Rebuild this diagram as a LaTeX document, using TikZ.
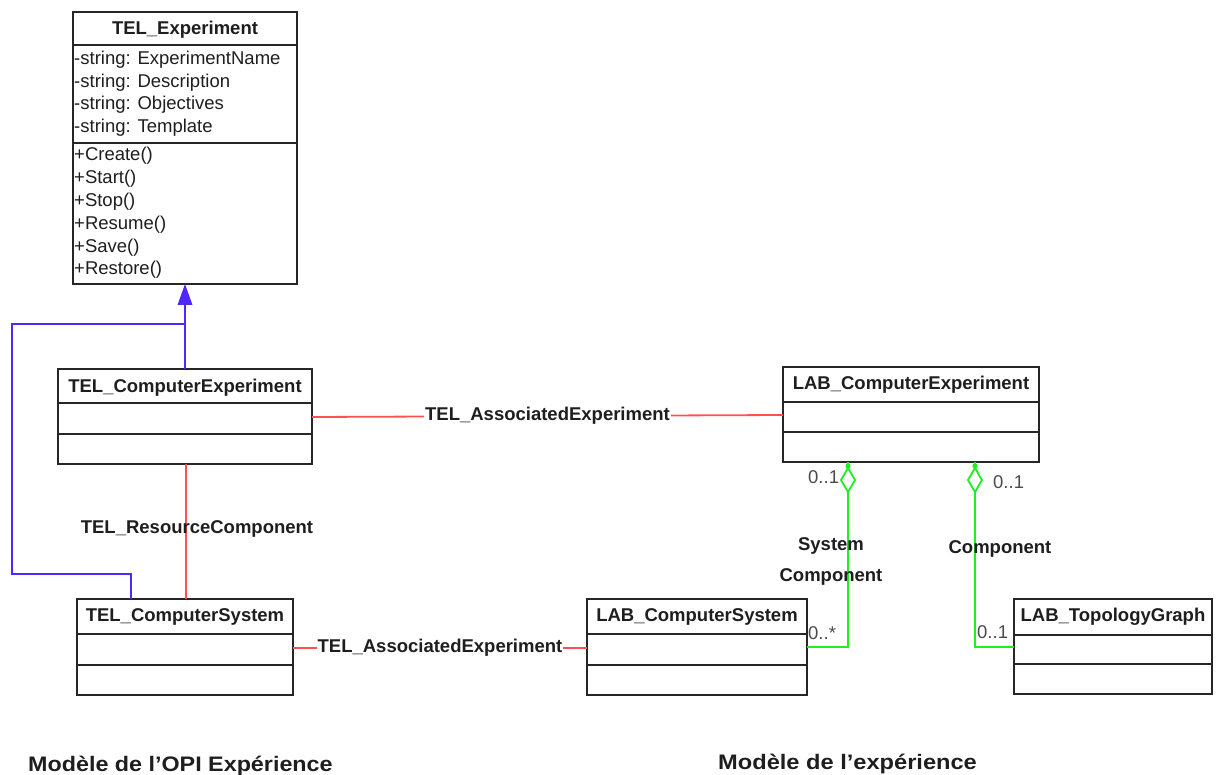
\documentclass[tikz,border=0pt]{standalone}
\usepackage{fontspec}
\setmainfont{Liberation Sans}
\definecolor{umlred}{RGB}{255,80,80}
\definecolor{umlblue}{RGB}{80,40,255}
\definecolor{umlgreen}{RGB}{30,240,30}
\definecolor{txt}{RGB}{30,30,30}
\tikzset{
  classbox/.style={draw=black!85, line width=1.2pt, rectangle, inner sep=0pt, outer sep=0pt, anchor=north west},
  sepline/.style={draw=black!85, line width=1.2pt},
  ttltxt/.style={font=\fontsize{18.5}{22}\selectfont\bfseries, text=txt, inner sep=0pt, anchor=base},
  attrtxt/.style={font=\fontsize{18.5}{22}\selectfont, text=txt, inner sep=0pt, anchor=base west},
  lbltxt/.style={font=\fontsize{18.5}{22}\selectfont\bfseries, text=txt, inner sep=0pt, anchor=base},
  multtxt/.style={font=\fontsize{18.5}{22}\selectfont, text=txt!80, inner sep=0pt, anchor=base west},
  captxt/.style={font=\fontsize{21}{25}\selectfont\bfseries, text=txt, inner sep=0pt, anchor=base west},
  redline/.style={draw=umlred, line width=1.8pt},
  blueline/.style={draw=umlblue, line width=1.8pt},
  greenline/.style={draw=umlgreen, line width=1.8pt},
}
\begin{document}
\begin{tikzpicture}[x=1pt,y=-1pt]
\useasboundingbox (0,0) rectangle (1216,775);

% ---------- TEL_Experiment
\node[classbox, minimum width=224pt, minimum height=272pt] (te) at (73,12) {};
\draw[sepline] (te.west |- 0,45) -- (te.east |- 0,45);
\draw[sepline] (te.west |- 0,143) -- (te.east |- 0,143);
\node[ttltxt] (te-t) at (185,34.6) {TEL\_Experiment};
\node[attrtxt] (te-a1) at (74,64.5) {-string: ExperimentName};
\node[attrtxt] (te-a2) at (74,87.5) {-string: Description};
\node[attrtxt] (te-a3) at (74,110) {-string: Objectives};
\node[attrtxt] (te-a4) at (74,133) {-string: Template};
\node[attrtxt] (te-m1) at (74,161) {+Create()};
\node[attrtxt] (te-m2) at (74,184) {+Start()};
\node[attrtxt] (te-m3) at (74,207) {+Stop()};
\node[attrtxt] (te-m4) at (74,229.5) {+Resume()};
\node[attrtxt] (te-m5) at (74,252.5) {+Save()};
\node[attrtxt] (te-m6) at (74,274.5) {+Restore()};

% ---------- TEL_ComputerExperiment
\node[classbox, minimum width=254pt, minimum height=95pt] (tce) at (58,369) {};
\draw[sepline] (tce.west |- 0,403) -- (tce.east |- 0,403);
\draw[sepline] (tce.west |- 0,434) -- (tce.east |- 0,434);
\node[ttltxt] (tce-t) at (185,392.6) {TEL\_ComputerExperiment};

% ---------- TEL_ComputerSystem
\node[classbox, minimum width=216pt, minimum height=96pt] (tcs) at (77,599) {};
\draw[sepline] (tcs.west |- 0,634) -- (tcs.east |- 0,634);
\draw[sepline] (tcs.west |- 0,665) -- (tcs.east |- 0,665);
\node[ttltxt] (tcs-t) at (185,621.6) {TEL\_ComputerSystem};

% ---------- LAB_ComputerExperiment
\node[classbox, minimum width=256pt, minimum height=95pt] (lce) at (783,367) {};
\draw[sepline] (lce.west |- 0,402) -- (lce.east |- 0,402);
\draw[sepline] (lce.west |- 0,432) -- (lce.east |- 0,432);
\node[ttltxt] (lce-t) at (911,389.6) {LAB\_ComputerExperiment};

% ---------- LAB_ComputerSystem
\node[classbox, minimum width=220pt, minimum height=96pt] (lcs) at (587,599) {};
\draw[sepline] (lcs.west |- 0,634) -- (lcs.east |- 0,634);
\draw[sepline] (lcs.west |- 0,665) -- (lcs.east |- 0,665);
\node[ttltxt] (lcs-t) at (697,621.6) {LAB\_ComputerSystem};

% ---------- LAB_TopologyGraph
\node[classbox, minimum width=198pt, minimum height=95pt] (ltg) at (1014,599) {};
\draw[sepline] (ltg.west |- 0,635) -- (ltg.east |- 0,635);
\draw[sepline] (ltg.west |- 0,664) -- (ltg.east |- 0,664);
\node[ttltxt] (ltg-t) at (1113,621.6) {LAB\_TopologyGraph};

% ---------- generalization (blue)
\coordinate (gtip) at (te.south -| 185,0);
\coordinate (gbase) at (185,305);
\coordinate (gjoin) at (185,324);
\coordinate (gl1) at (12,324);
\coordinate (gl2) at (12,574);
\coordinate (gl3) at (131,574);
\draw[blueline] (tce.north -| gjoin) -- (gbase);
\draw[blueline, line join=miter] (tcs.north -| gl3) -- (gl3) -- (gl2) -- (gl1) -- (gjoin);
\fill[umlblue] (gtip) -- (177.5,305) -- (192.5,305) -- cycle;

% ---------- red associations
\draw[redline] (tce.east |- 0,417) -- node[lbltxt, anchor=center, fill=white, inner xsep=1pt, inner ysep=2pt] (l1) {TEL\_AssociatedExperiment} (lce.west |- 0,415);
\draw[redline] (tce.south -| 186,0) -- (tcs.north -| 186,0);
\node[lbltxt] (l2) at (197,533.6) {TEL\_ResourceComponent};
\draw[redline] (tcs.east |- 0,648) -- node[lbltxt, anchor=center, fill=white, inner xsep=1pt, inner ysep=2pt, pos=0.5] (l3) {TEL\_AssociatedExperiment} (lcs.west |- 0,648);

% ---------- green aggregations
\coordinate (d1) at (848,480);
\coordinate (d2) at (975,480);
\coordinate (c1) at (848,647);
\coordinate (c2) at (975,647);
\draw[greenline] (lce.south -| d1) -- (848,468);
\draw[greenline, fill=white] (848,468) -- (855,480) -- (848,492) -- (841,480) -- cycle;
\fill[umlgreen] (848,466) circle (2.6pt);
\draw[greenline, line join=miter] (848,492) -- (c1) -- (lcs.east |- c1);
\draw[greenline] (lce.south -| d2) -- (975,468);
\draw[greenline, fill=white] (975,468) -- (982,480) -- (975,492) -- (968,480) -- cycle;
\fill[umlgreen] (975,466) circle (2.6pt);
\draw[greenline, line join=miter] (975,492) -- (c2) -- (ltg.west |- c2);

\node[lbltxt] (s1) at (831,550.6) {System};
\node[lbltxt] (s2) at (831,581.6) {Component};
\node[lbltxt] (s3) at (1000,553.6) {Component};

\node[multtxt] (m1) at (808,483.5) {0..1};
\node[multtxt] (m2) at (993,488.5) {0..1};
\node[multtxt] (m3) at (808,639.5) {0..*};
\node[multtxt] (m4) at (977,638.5) {0..1};

% ---------- captions
\node[captxt] (cap1) at (28,771) {\scalebox{1.11}[1]{Modèle de l’OPI Expérience}};
\node[captxt] (cap2) at (718,769) {\scalebox{1.125}[1]{Modèle de l’expérience}};
\end{tikzpicture}
\end{document}
